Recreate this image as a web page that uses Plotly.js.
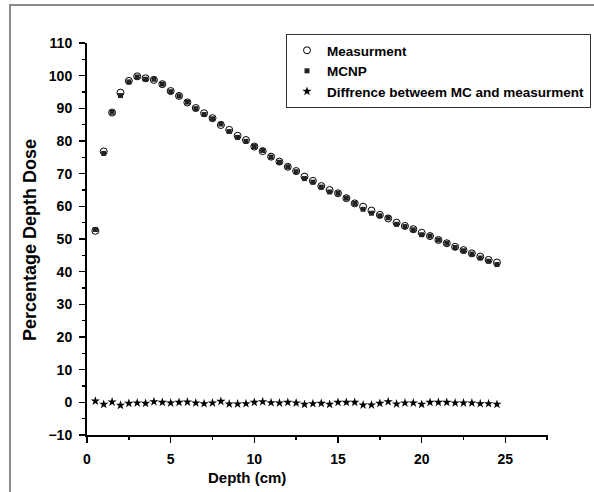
<!DOCTYPE html>
<html>
<head>
<meta charset="utf-8">
<script src="https://cdn.plot.ly/plotly-3.0.1.min.js"></script>
<style>
html,body{margin:0;padding:0;background:#fff;}
#frame{position:absolute;left:9px;top:4px;width:700px;height:600px;border-left:2px solid #8a8a8a;border-top:2px solid #8a8a8a;pointer-events:none;z-index:5;}
#chart{position:absolute;left:0;top:0;width:594px;height:492px;}
</style>
</head>
<body>
<div id="chart"></div>
<div id="frame"></div>
<script>
// Data
const depth = [0.5,1,1.5,2,2.5,3,3.5,4,4.5,5,5.5,6,6.5,7,7.5,8,8.5,9,9.5,10,10.5,11,11.5,12,12.5,13,13.5,14,14.5,15,15.5,16,16.5,17,17.5,18,18.5,19,19.5,20,20.5,21,21.5,22,22.5,23,23.5,24,24.5];
const measurement = [52.5,76.8,88.7,94.8,98.4,99.8,99.2,98.7,97.4,95.3,93.8,91.8,90.1,88.5,87.0,84.9,83.4,81.6,80.3,78.3,76.9,75.2,73.7,72.1,70.8,69.1,67.8,66.2,65.0,64.0,62.5,60.9,59.9,58.7,57.4,56.3,55.0,54.0,53.0,51.9,50.9,49.7,48.7,47.6,46.6,45.6,44.6,43.6,42.8];
const mcnp = [52.9,76.2,88.8,93.9,98.1,99.6,98.9,98.9,97.4,95.1,93.8,91.9,89.9,88.1,86.8,85.2,82.9,81.1,79.9,78.3,77.1,75.1,73.5,72.1,70.6,68.5,67.4,65.9,64.4,64.0,62.5,60.9,59.1,57.9,57.1,56.5,54.5,53.8,52.8,51.3,50.9,49.7,48.7,47.4,46.4,45.4,44.2,43.2,42.2];
const difference = [0.4,-0.6,0.1,-0.9,-0.3,-0.2,-0.3,0.2,0.0,-0.2,0.0,0.1,-0.2,-0.4,-0.2,0.3,-0.5,-0.5,-0.4,0.0,0.2,-0.1,-0.2,0.0,-0.2,-0.6,-0.4,-0.3,-0.6,0.0,0.0,0.0,-0.8,-0.8,-0.3,0.2,-0.5,-0.2,-0.2,-0.6,0.0,0.0,0.0,-0.2,-0.2,-0.2,-0.4,-0.4,-0.6];
const seriesNames = ["Measurment","MCNP","Diffrence betweem MC and measurment"];
const xTitle = "Depth (cm)";
const yTitle = "Percentage Depth Dose";

const fam = "Arial, 'Liberation Sans', sans-serif";
const boldFont = {family:fam, size:14, color:"#000", weight:"bold"};

const traces = [
  {x:depth, y:measurement, name:seriesNames[0], type:"scatter", mode:"markers",
   marker:{symbol:"circle-open", size:7, color:"#000", line:{width:1, color:"#000"}}},
  {x:depth, y:mcnp, name:seriesNames[1], type:"scatter", mode:"markers",
   marker:{symbol:"square", size:5, color:"#222"}},
  {x:depth, y:difference, name:seriesNames[2], type:"scatter", mode:"markers",
   marker:{symbol:"star", size:7, color:"#000"}}
];

const layout = {
  width:594, height:492,
  margin:{l:87, r:46, t:43, b:57, autoexpand:false},
  paper_bgcolor:"rgba(0,0,0,0)", plot_bgcolor:"#fff",
  showlegend:true,
  legend:{xref:"container", yref:"container", x:286/594, xanchor:"left", y:1-34/492, yanchor:"top",
    bordercolor:"#333", borderwidth:1, bgcolor:"#fff", font:{family:fam, size:13.5, color:"#000", weight:"bold"},
    tracegroupgap:0, itemwidth:30},
  xaxis:{range:[0,27.55], dtick:5, tick0:0, showgrid:false, zeroline:false,
    showline:true, linecolor:"#000", linewidth:2, ticks:"outside", ticklen:6, tickwidth:1.5, tickcolor:"#000",
    minor:{dtick:2.5, ticks:"outside", ticklen:3, tickwidth:1.5, tickcolor:"#000"},
    tickfont:boldFont, ticklabelstandoff:4},
  yaxis:{range:[-10,110], dtick:10, tick0:0, showgrid:false, zeroline:false,
    showline:true, linecolor:"#000", linewidth:2, ticks:"outside", ticklen:6, tickwidth:1.5, tickcolor:"#000",
    minor:{dtick:5, ticks:"outside", ticklen:3, tickwidth:1.5, tickcolor:"#000"},
    tickfont:boldFont, ticklabelstandoff:4},
  annotations:[
    {text:xTitle, xref:"paper", yref:"paper", x:(247-87)/461, y:-(477-435)/392, xanchor:"center", yanchor:"middle",
     showarrow:false, font:{family:fam, size:15, color:"#000", weight:"bold"}},
    {text:yTitle, textangle:-90, xref:"paper", yref:"paper", x:-(87-30)/461, y:(435-240)/392, xanchor:"center", yanchor:"middle",
     showarrow:false, font:{family:fam, size:18, color:"#000", weight:"bold"}}
  ]
};

Plotly.newPlot("chart", traces, layout, {displayModeBar:false, staticPlot:true});
</script>
</body>
</html>
